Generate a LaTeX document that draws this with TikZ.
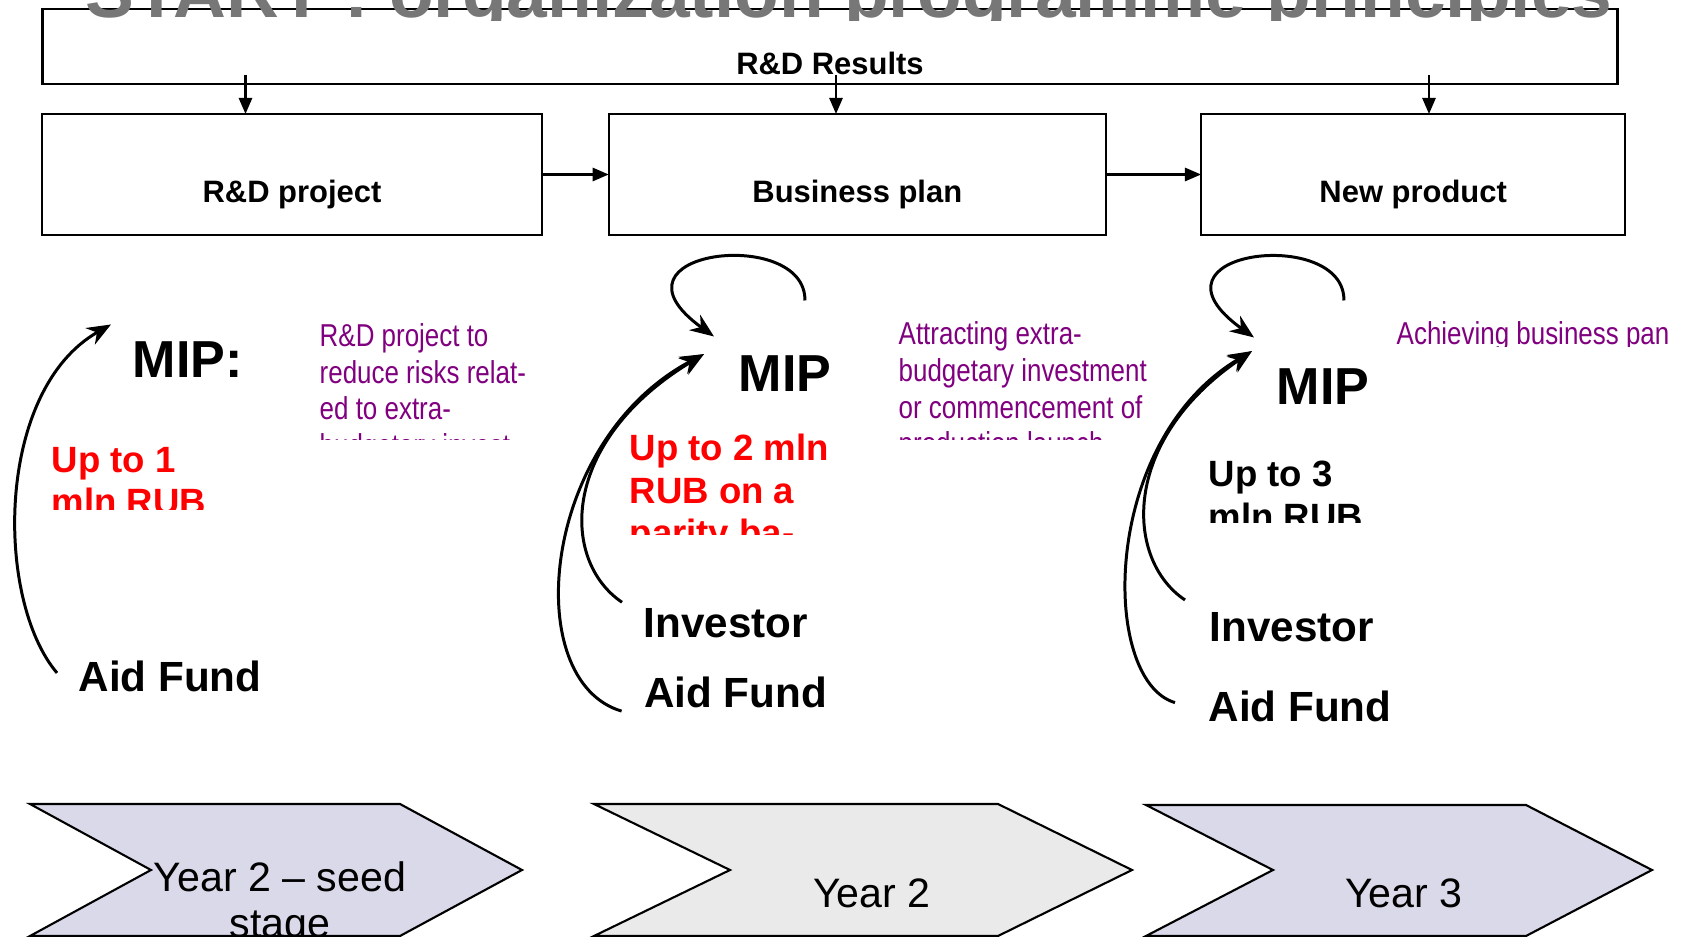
\documentclass[tikz,border=0pt]{standalone}
\usepackage{fontspec}
\setmainfont{Liberation Sans}
\newfontfamily\narrowfont[FakeStretch=0.82]{Liberation Sans}
\usetikzlibrary{positioning,arrows.meta,calc}
\definecolor{titlegray}{RGB}{119,119,119}
\definecolor{notepurple}{RGB}{128,0,128}
\definecolor{lavender}{RGB}{218,217,233}
\definecolor{palegray}{RGB}{234,234,234}

\begin{document}
\begin{tikzpicture}[
		x=0.01cm, y=-0.01cm,
		% 阶段方框,文字偏下
		stagebox/.style={rectangle, draw=black, line width=0.6pt, outer sep=0pt, minimum height=1.21cm, inner xsep=0pt, inner ysep=0.13cm, text height=0.75cm, text depth=0.2cm, font=\fontsize{8.8}{10}\selectfont\bfseries},
		% 顶部的长条框
		resultbox/.style={rectangle, draw=black, line width=0.6pt, outer sep=0pt, minimum width=15.74cm, minimum height=0.75cm, inner ysep=0.1cm, text height=0.55cm, text depth=0cm, font=\fontsize{8.8}{10}\selectfont\bfseries},
		% 各种文字(多行时 base 是最后一行)
		mipnode/.style={inner sep=0pt, anchor=base west, font=\fontsize{14.8}{17}\selectfont\bfseries},
		sumnode/.style={inner sep=0pt, anchor=base west, align=left, font=\fontsize{10.4}{12.2}\selectfont\bfseries},
		notenode/.style={inner sep=0pt, anchor=base west, align=left, text=notepurple, font=\narrowfont\fontsize{9}{10.4}\selectfont},
		partynode/.style={inner sep=0pt, anchor=base west, font=\fontsize{12}{14}\selectfont\bfseries},
		yearnode/.style={inner sep=0pt, anchor=base, align=center, font=\fontsize{11.7}{12.8}\selectfont},
		chevron/.style={draw=black, line width=0.6pt},
		% 箭头
		flowline/.style={line width=0.6pt, -{Triangle[length=4.6pt,width=3.8pt]}},
		loopline/.style={line width=0.85pt, -{Stealth[length=6.8pt,width=5.4pt]}},
		% 看不见的点
		point/.style={coordinate}
	]
	\useasboundingbox (0,0) rectangle (1696,937);

	%Boxes
	\node[resultbox]                      (results)   at (830,46.5)                 {R\&D Results};
	\node[stagebox, minimum width=4.99cm] (rdproj)    at (292,174.5)                {R\&D project};
	\node[stagebox, minimum width=4.97cm] (bplan)     [right=0.67cm of rdproj]      {Business plan};
	\node[stagebox, minimum width=4.24cm] (newprod)   [right=0.95cm of bplan]       {New product};

	% 标题被裁掉上半部分
	\begin{scope}
		\clip (0,0) rectangle (1696,21);
		\node[inner sep=0pt, anchor=base west, text=titlegray, font=\fontsize{20.8}{24}\selectfont\bfseries] (title) at (85,17.5) {START : organization programme principles};
	\end{scope}

	%Lines
	\node[point] (drop1) at (245.5,75) {};
	\node[point] (drop2) at (836,75) {};
	\node[point] (drop3) at (1429,75) {};
	\draw[flowline] (drop1) -- (drop1 |- rdproj.north);
	\draw[flowline] (drop2) -- (drop2 |- bplan.north);
	\draw[flowline] (drop3) -- (drop3 |- newprod.north);
	\draw[flowline] (rdproj) -- (bplan);
	\draw[flowline] (bplan) -- (newprod);

	% 第一列
	\node[mipnode]   (mip1) at (132,378)   {MIP:};
	\node[partynode] (aid1) at (78,692)    {Aid Fund};
	\begin{scope}
		\clip (0,400) rectangle (300,510);
		\node[sumnode, text=red] (sum1) at (51,515) {Up to 1\\mln RUB};
	\end{scope}
	\begin{scope}
		\clip (300,290) rectangle (560,440);
		\node[notenode] (note1) at (319,456.3) {R\&D project to\\reduce risks relat-\\ed to extra-\\budgetary invest-};
	\end{scope}

	% 第二列
	\node[mipnode]   (mip2) at (738,392)   {MIP};
	\node[partynode] (inv2) at (643,638)   {Investor};
	\node[partynode] (aid2) at (643.6,708) {Aid Fund};
	\begin{scope}
		\clip (600,400) rectangle (880,535);
		\node[sumnode, text=red] (sum2) at (629,546) {Up to 2 mln\\RUB on a\\parity ba-};
	\end{scope}
	\begin{scope}
		\clip (880,290) rectangle (1180,440);
		\node[notenode] (note2) at (898,454.6) {Attracting extra-\\budgetary investment\\or commencement of\\production launch};
	\end{scope}

	% 第三列
	\node[mipnode]   (mip3) at (1276,405)  {MIP};
	\node[partynode] (inv3) at (1209,641.7) {Investor};
	\node[partynode] (aid3) at (1208,721.7) {Aid Fund};
	\begin{scope}
		\clip (1190,420) rectangle (1450,523);
		\node[sumnode] (sum3) at (1208,529.7) {Up to 3\\mln RUB};
	\end{scope}
	\begin{scope}
		\clip (1380,290) rectangle (1696,347);
		\node[notenode] (note3) at (1396,345) {Achieving business pan};
	\end{scope}

	% 弯箭头的端点
	\coordinate (tip1)  at ($(mip1.north west)+(-21,-17)$);
	\coordinate (loop2) at ($(mip2.north east)+(-27,-55)$);
	\coordinate (top2)  at ($(mip2.north west)+(-24,-19)$);
	\coordinate (tip2)  at ($(mip2.west)+(-34,-20)$);
	\coordinate (loop3) at ($(mip3.north east)+(-26,-68)$);
	\coordinate (top3)  at ($(mip3.north west)+(-22,-31)$);
	\coordinate (tip3)  at ($(mip3.west)+(-24,-36)$);

	\draw[loopline] ($(aid1.west)+(-21,-4)$) .. controls +(-62,-73) and +(-116,66) .. (tip1);

	\draw[loopline] (loop2) .. controls +(1,-75) and +(-119,-86) .. (top2);
	\draw[loopline] ($(inv2.north west)+(-21,-6)$) .. controls +(-62,-42) and +(-144,87) .. (tip2);
	\draw[loopline] ($(aid2.south west)+(-22,2)$) .. controls +(-102,-30) and +(-164,87) .. (tip2);

	\draw[loopline] (loop3) .. controls +(1,-75) and +(-121,-87) .. (top3);
	\draw[loopline] ($(inv3.north west)+(-24,-12)$) .. controls +(-60,-40) and +(-132,90) .. (tip3);
	\draw[loopline] ($(aid3.west)+(-33,-4)$) .. controls +(-75,-22) and +(-152,90) .. (tip3);

	% 底部的箭头形
	\filldraw[chevron, fill=lavender] (30,804) -- (400,804) -- (522,870) -- (400,936) -- (30,936) -- (151,870) -- cycle;
	\filldraw[chevron, fill=palegray] (594,804) -- (998,804) -- (1132,870) -- (998,936) -- (594,936) -- (730,870) -- cycle;
	\filldraw[chevron, fill=lavender] (1146,805) -- (1526,805) -- (1652,870) -- (1526,936) -- (1146,936) -- (1273,870) -- cycle;
	\node[yearnode] (year1) at (280,937)  {Year 2 – seed\\stage};
	\node[yearnode] (year2) at (872,908)  {Year 2};
	\node[yearnode] (year3) at (1404,908) {Year 3};
\end{tikzpicture}
\end{document}
